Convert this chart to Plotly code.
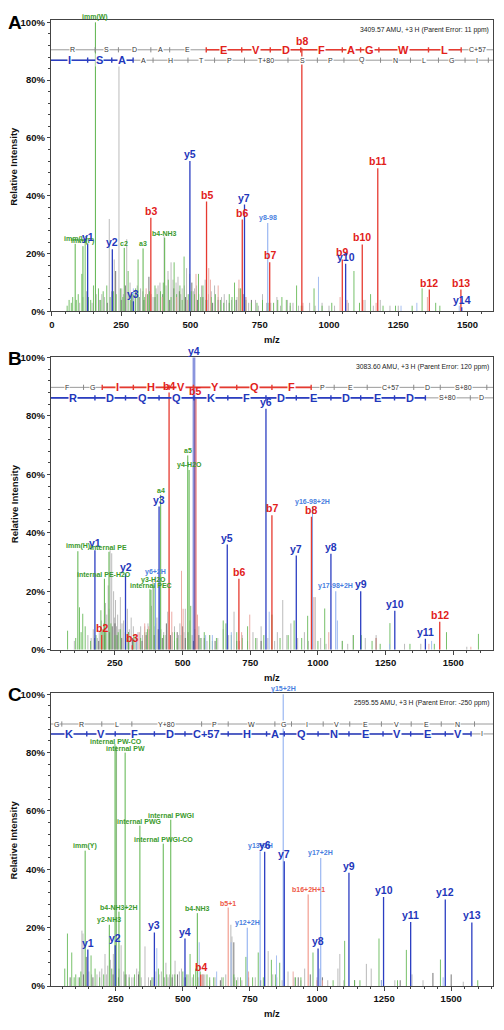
import plotly.graph_objects as go

FONT = "Liberation Sans, Arial, Helvetica, sans-serif"

# ======================= DATA =======================
# ---------- Panel A ----------
A_header = "3409.57 AMU, +3 H (Parent Error: 11 ppm)"
A_xrange = [-4, 1592]
A_ions = [  # (label, m/z, intensity %, kind)
    ("imm(W)", 157, 100, "g"), ("b8", 902, 91, "b"), ("y5", 498, 52, "y"),
    ("b11", 1176, 49.5, "b"), ("b5", 558, 38, "b"), ("y7", 695, 37, "y"),
    ("b6", 687, 31.8, "b"), ("y8-98", 779, 30.6, "yl"), ("b3", 357, 32.4, "b"),
    ("b7", 786, 17, "b"), ("b9", 1048, 18, "b"), ("y10", 1060, 16.5, "y"),
    ("b10", 1120, 23.2, "b"), ("b12", 1362, 7.6, "b"), ("b13", 1476, 7.6, "b"),
    ("y14", 1479, 1.5, "y"), ("imm(L)", 84, 23.4, "g"), ("imm(F)", 112, 22.6, "g"),
    ("y1", 129, 23.5, "y"), ("y2", 218, 21.5, "y"), ("c2", 261, 22, "g"),
    ("a3", 329, 21.8, "g"), ("b4-NH3", 407, 25.5, "g"), ("y3", 294, 3.5, "y"),
]
A_green = [(62, 4), (75, 5), (95, 6), (108, 13), (120, 24), (140, 4), (150, 9), (168, 8),
           (185, 7), (198, 9), (232, 6), (247, 8), (275, 14), (290, 6), (311, 18), (345, 6),
           (372, 9), (392, 7), (420, 11), (441, 17), (462, 9), (477, 19), (492, 6), (515, 6),
           (529, 13), (545, 9), (575, 5), (608, 4), (640, 6), (659, 10), (675, 8), (681, 8),
           (720, 3), (760, 4), (800, 3), (830, 5), (846, 4), (883, 9), (946, 8), (1010, 3),
           (1090, 14), (1110, 3), (1150, 6), (1195, 2), (1240, 2), (1300, 2), (1336, 8),
           (1385, 3), (1400, 2), (55, 2), (70, 3), (88, 4), (132, 5), (176, 4), (210, 5),
           (222, 7), (256, 5), (284, 4), (302, 8), (335, 5), (352, 7), (380, 6), (402, 10),
           (430, 5), (450, 6), (470, 4), (503, 7), (537, 5), (556, 4), (590, 6), (620, 3),
           (650, 5), (700, 4), (740, 3), (780, 3), (815, 4), (860, 3), (900, 2), (975, 2)]
A_grey = [(100, 3), (125, 7), (160, 6), (180, 6), (207, 32), (225, 18), (242, 86), (252, 8),
          (270, 25), (282, 10), (300, 7), (320, 8), (338, 6), (365, 5), (383, 9), (405, 26),
          (419, 14), (430, 17), (448, 10), (455, 12), (470, 8), (486, 15), (497, 13), (510, 7),
          (522, 9), (553, 11), (565, 6), (587, 9), (600, 5), (622, 6), (648, 4), (700, 5),
          (735, 4), (760, 6), (790, 3), (812, 5), (850, 4), (870, 3), (905, 2), (930, 3),
          (975, 3), (1000, 2), (1070, 3), (1130, 4), (1185, 4), (1220, 2), (1250, 2),
          (112, 5), (145, 3), (172, 4), (190, 5), (215, 7), (258, 6), (295, 5), (308, 9),
          (328, 7), (358, 6), (376, 8), (390, 10), (412, 9), (437, 11), (465, 6), (478, 9),
          (515, 8), (530, 6), (540, 9), (575, 7), (612, 5), (630, 4), (668, 5), (710, 3),
          (745, 2), (775, 3), (825, 2), (860, 2), (890, 2), (950, 2), (1020, 2), (1160, 2)]
A_dgrey = [(230, 14), (265, 9), (315, 5), (350, 12), (400, 6), (440, 8), (460, 7), (505, 10),
           (545, 5), (600, 4), (690, 6), (720, 4), (760, 3), (200, 3), (250, 4), (288, 6),
           (332, 4), (372, 5), (425, 4), (482, 5), (525, 4), (580, 3), (640, 3), (665, 4)]
A_pink = [(340, 8), (398, 5), (520, 13), (566, 15), (572, 11), (600, 9), (675, 11), (700, 5),
          (906, 3), (1040, 5), (1065, 4), (1123, 4), (1170, 3), (1355, 5), (450, 5), (490, 4)]
A_lblue = [(294, 8), (962, 12), (1317, 3), (1470, 2), (560, 4), (1260, 2)]
A_top_letters = ["R", "S", "D", "A", "E", "E", "V", "D", "F", "A", "G", "W", "L", "C+57"]
A_top_ticks = [156, 240, 357, 425, 557, 685, 788, 898, 1048, 1114, 1180, 1359, 1477]
A_top_hl = (5, 12)
A_bot_letters = ["I", "S", "A", "A", "H", "T", "P", "T+80", "S", "P", "Q", "N", "L", "G", "I"]
A_bot_ticks = [129, 216, 293, 365, 491, 587, 695, 852, 958, 1054, 1186, 1294, 1395, 1491, 1575]
A_bot_hl = (0, 2)
A_rows_y = [90.5, 86.9]

# ---------- Panel B ----------
B_header = "3083.60 AMU, +3 H (Parent Error: 120 ppm)"
B_xrange = [13, 1647]
B_ions = [
    ("y4", 542, 100, "y"), ("b5", 547, 86, "b"), ("b4", 450, 88, "b"), ("y6", 808, 82.5, "y"),
    ("a5", 519, 66.5, "g"), ("y4-H2O", 524, 61.5, "g"), ("a4", 419, 53, "g"),
    ("y3", 413, 49, "y"), ("y16-98+2H", 980, 49, "yl"), ("b8", 976, 45.5, "b"),
    ("b7", 830, 46, "b"), ("y5", 665, 36, "y"), ("y1", 176, 34, "y"),
    ("imm(H)", 113, 33.7, "g"), ("internal PE", 228, 33.5, "g"), ("y7", 920, 32.2, "y"),
    ("y8", 1048, 32.8, "y"), ("y2", 289, 26, "y"), ("b6", 708, 24.3, "b"),
    ("internal PE-H2O", 211, 24.3, "g"), ("y6+2H", 400, 25, "yl"), ("y3-H2O", 394, 22, "g"),
    ("internal PEC", 383, 20.5, "g"), ("y17-98+2H", 1066, 20, "yl"), ("y9", 1158, 20, "y"),
    ("y10", 1284, 13.3, "y"), ("b12", 1450, 9.6, "b"), ("y11", 1397, 3.7, "y"),
    ("b2", 201, 5, "b"), ("b3", 314, 1.5, "b"),
]
B_green = [(75, 6.5), (119, 14.5), (131, 12.3), (140, 8), (160, 3), (198, 13.5), (216, 6),
           (250, 5), (270, 7), (300, 6), (360, 6), (379, 20.7), (480, 4), (530, 15), (580, 6),
           (610, 3), (650, 10), (660, 9), (700, 6), (740, 8), (830, 12), (912, 10), (962, 11.6),
           (1025, 14.1), (1131, 5), (1160, 5), (1200, 3), (1266, 9.1), (1430, 2), (1475, 6),
           (1593, 5.4), (105, 4), (125, 6), (180, 5), (205, 7), (235, 9), (262, 6), (290, 4),
           (320, 5), (345, 4), (370, 7), (400, 9), (430, 5), (470, 6), (495, 5), (545, 7),
           (565, 4), (600, 5), (625, 4), (680, 5), (720, 4), (770, 4), (800, 5), (860, 4),
           (890, 5), (940, 4), (1000, 3), (1090, 3), (1230, 2), (1340, 2)]
B_grey = [(100, 3), (150, 5), (170, 7), (185, 4), (200, 10), (215, 16), (225, 22), (232, 34),
          (238, 33), (245, 20), (252, 17), (260, 12), (270, 18), (282, 10), (296, 14), (310, 11),
          (325, 5), (345, 8), (360, 8), (372, 9), (385, 15), (390, 24), (405, 11), (430, 6),
          (445, 13), (470, 8), (490, 9), (510, 14), (527, 10), (560, 8), (600, 5), (650, 7),
          (690, 13), (720, 5), (760, 6), (790, 8), (850, 6), (870, 17), (900, 9), (950, 6),
          (990, 18), (1010, 4), (1090, 3), (1130, 5), (1175, 4), (1215, 5), (1320, 2),
          (1380, 2), (1550, 1), (162, 4), (192, 6), (208, 9), (220, 12), (228, 14), (248, 11),
          (256, 8), (265, 7), (276, 9), (288, 6), (303, 7), (318, 8), (335, 6), (352, 5),
          (366, 6), (378, 7), (398, 8), (420, 7), (438, 5), (462, 6), (485, 5), (505, 6),
          (535, 5), (570, 4), (590, 3), (630, 4), (670, 5), (710, 3), (740, 3), (775, 4),
          (815, 4), (840, 3), (885, 5), (925, 4), (965, 3), (1030, 2), (1110, 2)]
B_dgrey = [(175, 4), (240, 8), (250, 9), (300, 6), (330, 4), (365, 5), (410, 7), (440, 9),
           (455, 5), (480, 6), (500, 8), (520, 6), (560, 5), (580, 4), (620, 3), (700, 3),
           (790, 3), (1215, 4), (190, 3), (212, 5), (230, 6), (258, 5), (275, 4), (315, 4),
           (350, 3), (395, 5), (425, 4), (470, 3), (510, 4), (540, 3)]
B_pink = [(340, 6), (360, 9), (375, 8), (460, 13), (496, 27), (502, 14), (555, 12), (718, 6),
          (748, 12), (985, 18), (1040, 6), (1215, 4), (1410, 2), (1565, 1)]
B_lblue = [(330, 4), (415, 22), (585, 5), (610, 5), (680, 6), (820, 13), (1072, 10),
           (1265, 2), (1420, 3)]
B_top_letters = ["F", "G", "I", "H", "V", "Y", "Q", "F", "P", "E", "C+57", "D", "S+80"]
B_top_ticks = [134, 203, 318, 450, 540, 700, 830, 975, 1060, 1182, 1354, 1452, 1624]
B_top_hl = (2, 7)
B_bot_letters = ["R", "D", "Q", "Q", "K", "F", "D", "E", "D", "E", "D", "S+80", "D"]
B_bot_ticks = [176, 289, 413, 542, 667, 808, 920, 1048, 1158, 1283, 1397, 1563]
B_bot_hl = (0, 10)
B_rows_y = [89.8, 86.2]

# ---------- Panel C ----------
C_header = "2595.55 AMU, +3 H (Parent Error: -250 ppm)"
C_xrange = [8, 1656]
C_ions = [
    ("y15+2H", 874, 100, "yl"), ("internal PW-CO", 251, 82.3, "g"), ("internal PW", 285, 80, "g"),
    ("internal PWG", 340, 55, "g"), ("internal PWGI", 455, 57, "g"),
    ("internal PWGI-CO", 427, 48.8, "g"), ("imm(Y)", 136, 46.4, "g"),
    ("y13+2H", 788, 46.2, "yl"), ("y6", 805, 46, "y"), ("y7", 878, 42.8, "y"),
    ("y17+2H", 1014, 43.9, "yl"), ("y9", 1119, 38.8, "y"), ("b16+2H+1", 967, 31.4, "bl"),
    ("y10", 1248, 30.5, "y"), ("y12", 1478, 29.7, "y"), ("b5+1", 669, 26.9, "bl"),
    ("b4-NH3", 554, 25, "g"), ("b4-NH3+2H", 262, 25.5, "g"), ("y2-NH3", 226, 21, "g"),
    ("y11", 1349, 22, "y"), ("y13", 1577, 21.8, "y"), ("y12+2H", 740, 20, "yl"),
    ("y3", 394, 18.4, "y"), ("y4", 508, 16.3, "y"), ("y2", 248, 14, "y"),
    ("y1", 146, 12.5, "y"), ("y8", 1004, 12.9, "y"), ("b4", 567, 4, "b"),
]
C_green = [(60, 6), (70, 18), (86, 11.5), (101, 4), (115, 3), (158, 10.5), (173, 6), (190, 3),
           (247, 83), (300, 3), (409, 6), (470, 4), (500, 5), (527, 11), (540, 4), (600, 3),
           (700, 2), (735, 10), (760, 3), (781, 11.5), (800, 3), (830, 9), (861, 8), (920, 3),
           (985, 11.5), (1060, 2), (1103, 15.5), (1160, 2), (1231, 16.3), (1300, 2),
           (1333, 12.4), (1460, 9.1), (1599, 2), (95, 3), (120, 5), (205, 4), (235, 6),
           (320, 4), (385, 3), (440, 4), (515, 4), (548, 6), (565, 5), (590, 4), (615, 3),
           (650, 3), (690, 4), (715, 3), (845, 4), (940, 3), (1140, 2)]
C_grey = [(124, 19), (128, 18), (150, 5), (180, 4), (198, 6), (210, 11), (220, 7), (230, 9),
          (241, 11), (253, 82), (270, 14), (290, 4), (310, 3), (328, 6), (345, 3), (359, 13.6),
          (372, 3), (400, 5), (420, 5), (437, 8), (450, 4), (471, 8.7), (487, 5), (495, 6),
          (520, 4), (560, 3), (582, 4), (620, 3), (644, 3), (660, 4), (679, 21), (683, 17),
          (694, 3), (720, 2), (818, 12), (850, 3), (870, 2), (892, 5), (940, 2), (954, 6),
          (1040, 2), (1078, 6), (1085, 11), (1100, 2), (1184, 7.6), (1202, 6), (1290, 2),
          (1354, 4), (1395, 2), (1545, 1.5), (110, 3), (160, 4), (190, 5), (215, 4), (262, 6),
          (280, 5), (300, 4), (318, 3), (336, 5), (390, 3), (412, 4), (445, 3), (462, 4),
          (505, 3), (535, 3), (600, 2), (705, 3), (770, 3), (835, 4), (915, 3), (1000, 3)]
C_dgrey = [(80, 3), (130, 4), (140, 10), (165, 3), (240, 4), (260, 3), (285, 4), (335, 4),
           (380, 2), (430, 3), (460, 3), (480, 4), (510, 3), (575, 4), (640, 2), (690, 15),
           (745, 3), (790, 2), (930, 3), (975, 4), (1020, 3), (1140, 2), (1240, 2), (1310, 2),
           (1432, 4.5), (1500, 4)]
C_pink = [(555, 3), (575, 4), (745, 5), (911, 5), (1000, 2), (1020, 2)]
C_lblue = [(403, 13), (561, 15), (626, 5), (680, 15), (849, 10.5), (1010, 6), (1240, 2),
           (1470, 3)]
C_top_letters = ["G", "R", "L", "Y+80", "P", "W", "G", "I", "V", "E", "V", "E", "N"]
C_top_ticks = [49, 198, 310, 570, 669, 843, 905, 1023, 1122, 1240, 1351, 1463, 1587]
C_top_hl = None
C_bot_letters = ["K", "V", "F", "D", "C+57", "H", "A", "Q", "N", "E", "V", "E", "V", "I"]
C_bot_ticks = [142, 248, 394, 508, 669, 812, 878, 1004, 1119, 1246, 1349, 1478, 1574]
C_bot_hl = (0, 12)
C_rows_y = [89.8, 86.4]

# ======================= STYLE =======================
W, H = 504, 1030
X_DOM = [49 / W, 493 / W]
PANELS = [
    dict(name="A", xr=A_xrange, ytop=100.75, ypx=(15.3, 309.5), ions=A_ions, green=A_green,
         grey=A_grey, dgrey=A_dgrey, pink=A_pink, lblue=A_lblue, header=A_header,
         rows=[(A_top_letters, A_top_ticks, A_top_hl, "b"), (A_bot_letters, A_bot_ticks, A_bot_hl, "y")],
         rows_y=A_rows_y, mz_y=338),
    dict(name="B", xr=B_xrange, ytop=100.24, ypx=(355.3, 651.0), ions=B_ions, green=B_green,
         grey=B_grey, dgrey=B_dgrey, pink=B_pink, lblue=B_lblue, header=B_header,
         rows=[(B_top_letters, B_top_ticks, B_top_hl, "b"), (B_bot_letters, B_bot_ticks, B_bot_hl, "y")],
         rows_y=B_rows_y, mz_y=679),
    dict(name="C", xr=C_xrange, ytop=100.44, ypx=(694.7, 990.7), ions=C_ions, green=C_green,
         grey=C_grey, dgrey=C_dgrey, pink=C_pink, lblue=C_lblue, header=C_header,
         rows=[(C_top_letters, C_top_ticks, C_top_hl, "b"), (C_bot_letters, C_bot_ticks, C_bot_hl, "y")],
         rows_y=C_rows_y, mz_y=1018),
]
LINE_COL = {"b": "#e63a30", "y": "#2b3ec2", "g": "#5cb44b", "yl": "#86a9ef", "bl": "#f08a7a"}
TEXT_COL = {"b": "#e2211a", "y": "#1f37bb", "g": "#3b9a2c", "yl": "#4a7fe0", "bl": "#ee5a48"}
TEXT_SIZE = {"b": 10.5, "y": 10.5, "g": 7, "yl": 7, "bl": 7}
NOISE_COL = {"grey": "#b5b5b5", "dgrey": "#6b6b6b", "green": "#6abb5c", "pink": "#eba39c",
             "lblue": "#9db9f0"}
WIDE = {("B", "y4"), ("B", "b5")}


def vlines(pairs):
    xs, ys = [], []
    for m, h in pairs:
        xs += [m, m, None]
        ys += [0, h, None]
    return xs, ys


fig = go.Figure()
ladder_ann = []
ion_ann = []
frame_ann = []

for i, p in enumerate(PANELS):
    n = "" if i == 0 else str(i + 1)
    xa, ya = "x" + n, "y" + n
    top_px, bot_px = p["ypx"]
    ydom = [1 - bot_px / H, 1 - top_px / H]

    # noise peaks
    for key in ["grey", "dgrey", "green", "pink", "lblue"]:
        xs, ys = vlines(p[key])
        fig.add_trace(go.Scatter(x=xs, y=ys, mode="lines", xaxis=xa, yaxis=ya,
                                 line=dict(color=NOISE_COL[key], width=1), opacity=0.9,
                                 hoverinfo="skip"))
    # annotated ion peaks
    for kind in ["g", "yl", "bl", "b", "y"]:
        norm = [(m, h) for (lab, m, h, k) in p["ions"] if k == kind and (p["name"], lab) not in WIDE]
        xs, ys = vlines(norm)
        fig.add_trace(go.Scatter(x=xs, y=ys, mode="lines", xaxis=xa, yaxis=ya,
                                 line=dict(color=LINE_COL[kind], width=1.3 if kind in "by" else 1),
                                 hoverinfo="skip"))
        wide = [(m, h) for (lab, m, h, k) in p["ions"] if k == kind and (p["name"], lab) in WIDE]
        if wide:
            xs, ys = vlines(wide)
            fig.add_trace(go.Scatter(x=xs, y=ys, mode="lines", xaxis=xa, yaxis=ya,
                                     line=dict(color=LINE_COL[kind], width=2.8), opacity=0.55,
                                     hoverinfo="skip"))
    for (lab, m, h, k) in p["ions"]:
        ion_ann.append(dict(x=m, y=h, xref=xa, yref=ya, text=lab, showarrow=False,
                            yanchor="bottom", xanchor="center", yshift=-1,
                            font=dict(family=FONT, size=TEXT_SIZE[k], color=TEXT_COL[k],
                                      weight="bold")))

    # sequence ladders
    for (letters, ticks, hl, hk), ry in zip(p["rows"], p["rows_y"]):
        x0, x1 = p["xr"]
        edges = [x0] + list(ticks)
        if len(edges) < len(letters) + 1:
            edges.append(x1)
        fig.add_trace(go.Scatter(x=[x0, x1], y=[ry, ry], mode="lines", xaxis=xa, yaxis=ya,
                                 line=dict(color="#9a9a9a", width=1), hoverinfo="skip"))
        if hl:
            fig.add_trace(go.Scatter(x=[edges[hl[0]], edges[hl[1] + 1]], y=[ry, ry], mode="lines",
                                     xaxis=xa, yaxis=ya, line=dict(color=LINE_COL[hk], width=1.6),
                                     hoverinfo="skip"))
        tx_g, ty_g, tx_c, ty_c = [], [], [], []
        for k, t in enumerate(ticks, start=1):
            if hl and hl[0] <= k <= hl[1] + 1:
                tx_c += [t, t, None]; ty_c += [ry - 0.9, ry + 0.9, None]
            else:
                tx_g += [t, t, None]; ty_g += [ry - 0.9, ry + 0.9, None]
        fig.add_trace(go.Scatter(x=tx_g, y=ty_g, mode="lines", xaxis=xa, yaxis=ya,
                                 line=dict(color="#8a8a8a", width=1), hoverinfo="skip"))
        if tx_c:
            fig.add_trace(go.Scatter(x=tx_c, y=ty_c, mode="lines", xaxis=xa, yaxis=ya,
                                     line=dict(color=LINE_COL[hk], width=1.4), hoverinfo="skip"))
        for j, letter in enumerate(letters):
            xm = (edges[j] + edges[j + 1]) / 2
            colored = hl is not None and hl[0] <= j <= hl[1]
            ladder_ann.append(dict(
                x=xm, y=ry, xref=xa, yref=ya, text=letter, showarrow=False,
                xanchor="center", yanchor="middle", bgcolor="white", borderpad=0,
                font=dict(family=FONT, size=11 if colored else 7,
                          color=TEXT_COL[hk] if colored else "#333333",
                          weight="bold" if colored else "normal")))

    # header, panel letter, axis titles
    frame_ann.append(dict(x=491 / W, y=1 - (top_px + 10) / H, xref="paper", yref="paper",
                          text=p["header"], showarrow=False, xanchor="right", yanchor="middle",
                          font=dict(family=FONT, size=6.8, color="#222")))
    frame_ann.append(dict(x=13 / W, y=1 - (top_px + 2) / H, xref="paper", yref="paper",
                          text=p["name"], showarrow=False, xanchor="center", yanchor="middle",
                          font=dict(family=FONT, size=19, color="black", weight="bold")))
    frame_ann.append(dict(x=12 / W, y=(ydom[0] + ydom[1]) / 2, xref="paper", yref="paper",
                          text="Relative Intensity", showarrow=False, textangle=-90,
                          xanchor="center", yanchor="middle",
                          font=dict(family=FONT, size=9.5, color="#111", weight="bold")))
    frame_ann.append(dict(x=271 / W, y=1 - p["mz_y"] / H, xref="paper", yref="paper",
                          text="m/z", showarrow=False, xanchor="center", yanchor="middle",
                          font=dict(family=FONT, size=9.5, color="#111", weight="bold")))

    axis_common = dict(showline=True, linecolor="#444", linewidth=1, mirror=True,
                       showgrid=False, zeroline=False, ticks="outside", tickcolor="#444")
    fig.update_layout(**{
        ("xaxis" + n): dict(domain=X_DOM, range=p["xr"], anchor=ya, tickmode="linear", tick0=0,
                            dtick=250, ticklen=4,
                            tickfont=dict(family=FONT, size=9.5, color="#111", weight="bold"),
                            minor=dict(tick0=0, dtick=50, ticks="outside", ticklen=2,
                                       tickcolor="#444", showgrid=False),
                            **axis_common),
        ("yaxis" + n): dict(domain=ydom, range=[0, p["ytop"]], anchor=xa, tickmode="array",
                            tickvals=[0, 20, 40, 60, 80, 100],
                            ticktext=["0%", "20%", "40%", "60%", "80%", "100%"], ticklen=3,
                            tickfont=dict(family=FONT, size=9.5, color="#111", weight="bold"),
                            minor=dict(tick0=0, dtick=4, ticks="outside", ticklen=2,
                                       tickcolor="#444", showgrid=False),
                            **axis_common),
    })

fig.update_layout(width=W, height=H, margin=dict(l=0, r=0, t=0, b=0), showlegend=False,
                  plot_bgcolor="white", paper_bgcolor="white",
                  annotations=ladder_ann + ion_ann + frame_ann)
fig.write_html(
    "out.html",
    config={"responsive": False, "displayModeBar": False},
    post_script=("document.documentElement.style.margin='0';document.body.style.margin='0';"
                 "document.body.style.padding='0';document.body.style.overflow='hidden';"),
)
